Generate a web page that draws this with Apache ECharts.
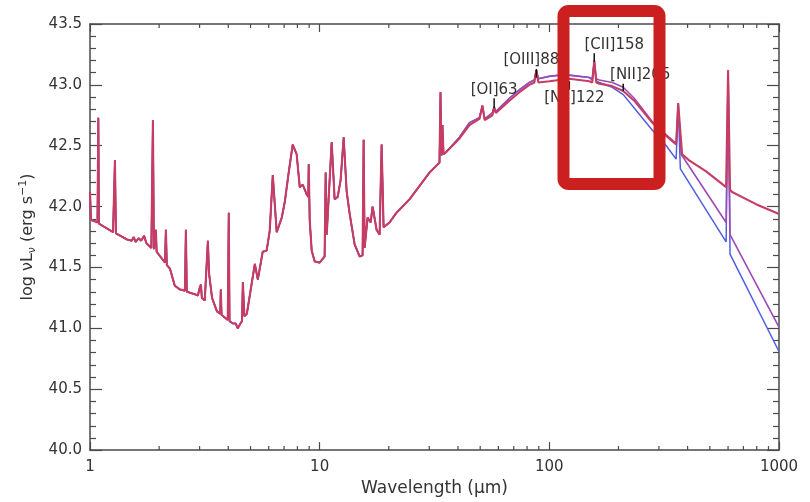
<!DOCTYPE html>
<html>
<head>
<meta charset="utf-8">
<title>SED</title>
<script src="https://cdn.jsdelivr.net/npm/echarts@6/dist/echarts.min.js"></script>
<style>
	html, body { margin: 0; padding: 0; background: #fff; }
	#chart { width: 810px; height: 502px; }
</style>
</head>
<body>
<div id="chart"></div>
<script>
// shared part of the three models, 1 - 36 micron (all curves on top of each other)
var shortWave = [1.00, 1.01, 1.05, 1.078, 1.087, 1.094, 1.26, 1.284, 1.297, 1.45, 1.52, 1.55, 1.58, 1.63, 1.67,
	1.72, 1.76, 1.85, 1.879, 1.898, 1.93, 1.936, 1.95, 2.12, 2.14, 2.16, 2.23, 2.34, 2.46, 2.59, 2.615, 2.64,
	2.86, 2.95, 3.00, 3.04, 3.07, 3.16, 3.22, 3.26, 3.30, 3.40, 3.57, 3.69, 3.71, 3.74, 3.98, 4.02, 4.05,
	4.19, 4.31, 4.40, 4.52, 4.59, 4.63, 4.70, 4.82, 5.06, 5.22, 5.38, 5.65, 5.88, 6.06, 6.25, 6.50, 6.84,
	7.05, 7.33, 7.63, 7.94, 8.19, 8.44, 8.78, 8.92, 8.96, 9.05, 9.23, 9.51, 10.0, 10.51, 10.62, 10.73,
	11.28, 11.62, 11.98, 12.34, 12.72, 13.10, 13.51, 14.20, 14.93, 15.38, 15.54, 15.69, 16.17, 16.67,
	17.00, 17.69, 18.24, 18.61, 18.98, 20.15, 21.61, 24.62, 27.22, 30.08, 33.24, 33.58, 33.93, 34.26,
	34.61, 35.66];
var shortLum = [42.12, 41.89, 41.88, 41.87, 42.73, 41.86, 41.79, 42.38, 41.78, 41.73, 41.72, 41.75, 41.71, 41.74, 41.72,
	41.76, 41.70, 41.66, 42.71, 41.65, 41.64, 41.81, 41.63, 41.54, 41.81, 41.52, 41.49, 41.35, 41.32, 41.31, 41.81, 41.30,
	41.28, 41.27, 41.33, 41.36, 41.25, 41.23, 41.22, 41.72, 41.45, 41.25, 41.14, 41.12, 41.32, 41.11, 41.07, 41.95, 41.06,
	41.04, 41.04, 41.00, 41.04, 41.06, 41.38, 41.10, 41.12, 41.37, 41.53, 41.40, 41.63, 41.64, 41.80, 42.26, 41.79, 41.91,
	42.04, 42.28, 42.51, 42.43, 42.16, 42.18, 42.10, 42.08, 42.35, 41.89, 41.64, 41.55, 41.54, 41.59, 42.28, 41.77,
	42.53, 42.06, 42.08, 42.22, 42.57, 42.13, 41.94, 41.69, 41.59, 41.60, 42.55, 41.66, 41.91, 41.87,
	42.00, 41.81, 41.77, 42.51, 41.83, 41.87, 41.95, 42.06, 42.17, 42.28, 42.36, 42.94, 42.42, 42.67,
	42.43, 42.45];

// far-IR / submm tails of the three models
var redTailWave = [40.62, 44.89, 49.63, 51.13, 52.3, 53.21, 56.5, 57.5, 58.5, 67.0, 74.06, 81.85, 86.07, 87.8, 89.58,
	100, 110.5, 122.2, 135, 149.3, 153.8, 156.9, 160.1, 165, 187.9, 209.8, 234.2, 280.4, 323, 356.6, 363.9,
	378.6, 406.2, 481.6, 588.5, 600.3, 612, 624.8, 794.3, 1000];
var redTailLum = [42.56, 42.67, 42.72, 42.83, 42.71, 42.72, 42.75, 42.81, 42.77, 42.87, 42.94, 43.00, 43.02, 43.12, 43.02,
	43.03, 43.04, 43.05, 43.04, 43.03, 43.02, 43.20, 43.02, 43.01, 42.99, 42.95, 42.87, 42.69, 42.58, 42.51, 42.85,
	42.43, 42.38, 42.29, 42.16, 43.12, 42.14, 42.12, 42.02, 41.94];

var purpleTailWave = [40.62, 44.89, 49.63, 51.13, 52.3, 53.21, 56.5, 57.5, 58.5, 67.0, 74.06, 81.85, 86.07, 87.8, 89.58,
	100, 110.5, 122.2, 135, 149.3, 153.8, 156.9, 160.1, 165, 187.9, 209.8, 234.2, 280.4, 323, 356.6, 363.9,
	375, 588.5, 600.3, 612, 1000];
var purpleTailLum = [42.57, 42.69, 42.73, 42.83, 42.72, 42.73, 42.77, 42.82, 42.78, 42.89, 42.96, 43.02, 43.04, 43.12, 43.05,
	43.07, 43.08, 43.08, 43.07, 43.06, 43.05, 43.20, 43.05, 43.04, 43.02, 42.98, 42.89, 42.70, 42.59, 42.52, 42.85,
	42.43, 41.87, 43.12, 41.77, 41.01];

var blueTailWave = [40.62, 44.89, 49.63, 51.13, 52.3, 53.21, 56.5, 57.5, 58.5, 67.0, 74.06, 81.85, 86.07, 87.8, 89.58,
	100, 110.5, 122.2, 135, 149.3, 153.8, 156.9, 160.1, 165, 187.9, 209.8, 234.2, 280.4, 323, 356.6, 363.9,
	372, 588.5, 600.3, 612, 1000];
var blueTailLum = [42.57, 42.69, 42.73, 42.83, 42.72, 42.73, 42.77, 42.82, 42.78, 42.89, 42.96, 43.02, 43.04, 43.12, 43.05,
	43.07, 43.08, 43.08, 43.07, 43.06, 43.04, 43.18, 43.03, 43.02, 42.98, 42.92, 42.81, 42.63, 42.50, 42.39, 42.83,
	42.31, 41.71, 43.10, 41.61, 40.81];

// fine structure line markers
var lineNames = ['[OI]63', '[OIII]88', '[NII]122', '[CII]158', '[NII]205'];
var lineWaves = [57.5, 87.8, 122.2, 156.9, 209.8];
var lineTickLow = [42.81, 43.06, 42.96, 43.19, 42.95];
var lineTickHigh = [42.89, 43.13, 43.03, 43.26, 43.01];

// axes
var yTickLabels = ['40.0', '40.5', '41.0', '41.5', '42.0', '42.5', '43.0', '43.5'];
var xTickLabels = ['1', '10', '100', '1000'];
var xMinorTicks = [2, 3, 4, 5, 6, 7, 8, 9, 20, 30, 40, 50, 60, 70, 80, 90, 200, 300, 400, 500, 600, 700, 800, 900];

var FONT = '"DejaVu Sans", Verdana, sans-serif';
var AXIS_COLOR = '#4a4a4a';
var TEXT_COLOR = '#333';

// label placement around each marker (pixels)
var labelDx = [0, -5, 5, 20, 17];
var labelAbove = [true, true, false, true, true];

function toPairs(waves, lums) {
	return waves.map(function(w, i) {
		return [w, lums[i]];
	});
}

var yMin = 40, yMax = 43.5;

var myChart = echarts.init(document.getElementById('chart'), null, { renderer: 'canvas' });

var option = {
	animation : false,
	backgroundColor : '#fff',
	grid : {
		left : 90,
		right : 31,
		top : 24,
		bottom : 48
	},
	xAxis : [ {
		type : 'log',
		logBase : 10,
		min : 1,
		max : 1000,
		position : 'bottom',
		name : 'Wavelength (\u03bcm)',
		nameLocation : 'middle',
		nameGap : 28,
		nameTextStyle : { fontFamily : FONT, fontSize : 17, color : TEXT_COLOR },
		axisLine : { lineStyle : { color : AXIS_COLOR, width : 1.5 } },
		axisTick : { inside : true, length : 8, lineStyle : { color : AXIS_COLOR, width : 1.2 } },
		axisLabel : {
			margin : 10,
			fontFamily : FONT,
			fontSize : 15,
			color : TEXT_COLOR,
			formatter : function(v) {
				return xTickLabels[Math.round(Math.log10(v))];
			}
		},
		splitLine : { show : false }
	}, {
		type : 'log',
		logBase : 10,
		min : 1,
		max : 1000,
		position : 'top',
		axisLine : { lineStyle : { color : AXIS_COLOR, width : 1.5 } },
		axisTick : { inside : true, length : 8, lineStyle : { color : AXIS_COLOR, width : 1.2 } },
		axisLabel : { show : false },
		splitLine : { show : false }
	} ],
	yAxis : [ {
		type : 'value',
		min : yMin,
		max : yMax,
		interval : 0.5,
		position : 'left',
		name : '{n|log \u03bdL}{s|\u03bd}{n| (erg s}{p|\u22121}{n|)}',
		nameLocation : 'middle',
		nameRotate : 90,
		nameGap : 50,
		nameTextStyle : {
			rich : {
				n : { fontFamily : FONT, fontSize : 16, color : TEXT_COLOR, lineHeight : 20 },
				s : { fontFamily : FONT, fontSize : 11, color : TEXT_COLOR, lineHeight : 11, verticalAlign : 'bottom' },
				p : { fontFamily : FONT, fontSize : 11, color : TEXT_COLOR, lineHeight : 11, verticalAlign : 'top' }
			}
		},
		axisLine : { show : true, lineStyle : { color : AXIS_COLOR, width : 1.5 } },
		axisTick : { show : true, inside : true, length : 12, lineStyle : { color : AXIS_COLOR, width : 1.2 } },
		minorTick : { show : true, splitNumber : 5, length : 6, lineStyle : { color : AXIS_COLOR, width : 1.2 } },
		axisLabel : {
			margin : 8,
			fontFamily : FONT,
			fontSize : 15,
			color : TEXT_COLOR,
			formatter : function(v) {
				return yTickLabels[Math.round((v - yMin) * 2)];
			}
		},
		splitLine : { show : false }
	}, {
		type : 'value',
		min : yMin,
		max : yMax,
		interval : 0.5,
		position : 'right',
		axisLine : { show : true, lineStyle : { color : AXIS_COLOR, width : 1.5 } },
		axisTick : { show : true, inside : true, length : 12, lineStyle : { color : AXIS_COLOR, width : 1.2 } },
		minorTick : { show : true, splitNumber : 5, length : 6, lineStyle : { color : AXIS_COLOR, width : 1.2 } },
		axisLabel : { show : false },
		splitLine : { show : false }
	} ],
	graphic : [ {
		// highlight box around [CII]158
		type : 'rect',
		z : 100,
		shape : { x : 563.5, y : 11, width : 96, height : 173, r : 5 },
		style : { fill : 'none', stroke : '#cc2020', lineWidth : 12 }
	} ],
	series : [ {
		name : 'blue model',
		type : 'line',
		showSymbol : false,
		z : 2,
		lineStyle : { color : '#4f5fe0', width : 1.5 },
		data : toPairs(shortWave.concat(blueTailWave), shortLum.concat(blueTailLum))
	}, {
		name : 'purple model',
		type : 'line',
		showSymbol : false,
		z : 3,
		lineStyle : { color : '#9c4ab6', width : 1.6 },
		data : toPairs(shortWave.concat(purpleTailWave), shortLum.concat(purpleTailLum))
	}, {
		name : 'red model',
		type : 'line',
		showSymbol : false,
		z : 4,
		lineStyle : { color : '#c73c62', width : 2.1 },
		data : toPairs(shortWave.concat(redTailWave), shortLum.concat(redTailLum))
	}, {
		// minor ticks of the log axis, bottom and top
		type : 'custom',
		z : 5,
		silent : true,
		clip : false,
		data : xMinorTicks.map(function(w) { return [w, yMin]; }),
		renderItem : function(params, api) {
			var bottom = api.coord([api.value(0), yMin]);
			var top = api.coord([api.value(0), yMax]);
			var st = { stroke : AXIS_COLOR, lineWidth : 1.2 };
			return {
				type : 'group',
				children : [
					{ type : 'line', shape : { x1 : bottom[0], y1 : bottom[1], x2 : bottom[0], y2 : bottom[1] - 4 }, style : st },
					{ type : 'line', shape : { x1 : top[0], y1 : top[1], x2 : top[0], y2 : top[1] + 4 }, style : st }
				]
			};
		}
	}, {
		// line identification marks
		type : 'custom',
		z : 6,
		silent : true,
		clip : false,
		data : lineWaves.map(function(w, i) { return [w, lineTickLow[i], lineTickHigh[i]]; }),
		renderItem : function(params, api) {
			var i = params.dataIndex;
			var low = api.coord([api.value(0), api.value(1)]);
			var high = api.coord([api.value(0), api.value(2)]);
			var above = labelAbove[i];
			return {
				type : 'group',
				children : [ {
					type : 'line',
					shape : { x1 : low[0], y1 : low[1], x2 : high[0], y2 : high[1] },
					style : { stroke : '#111', lineWidth : 1.5 }
				}, {
					type : 'text',
					style : {
						text : lineNames[i],
						x : low[0] + labelDx[i],
						y : above ? high[1] - 1 : low[1] + 1,
						align : 'center',
						verticalAlign : above ? 'bottom' : 'top',
						fill : TEXT_COLOR,
						font : '15px ' + FONT
					}
				} ]
			};
		}
	} ]
};

myChart.setOption(option);
</script>
</body>
</html>
